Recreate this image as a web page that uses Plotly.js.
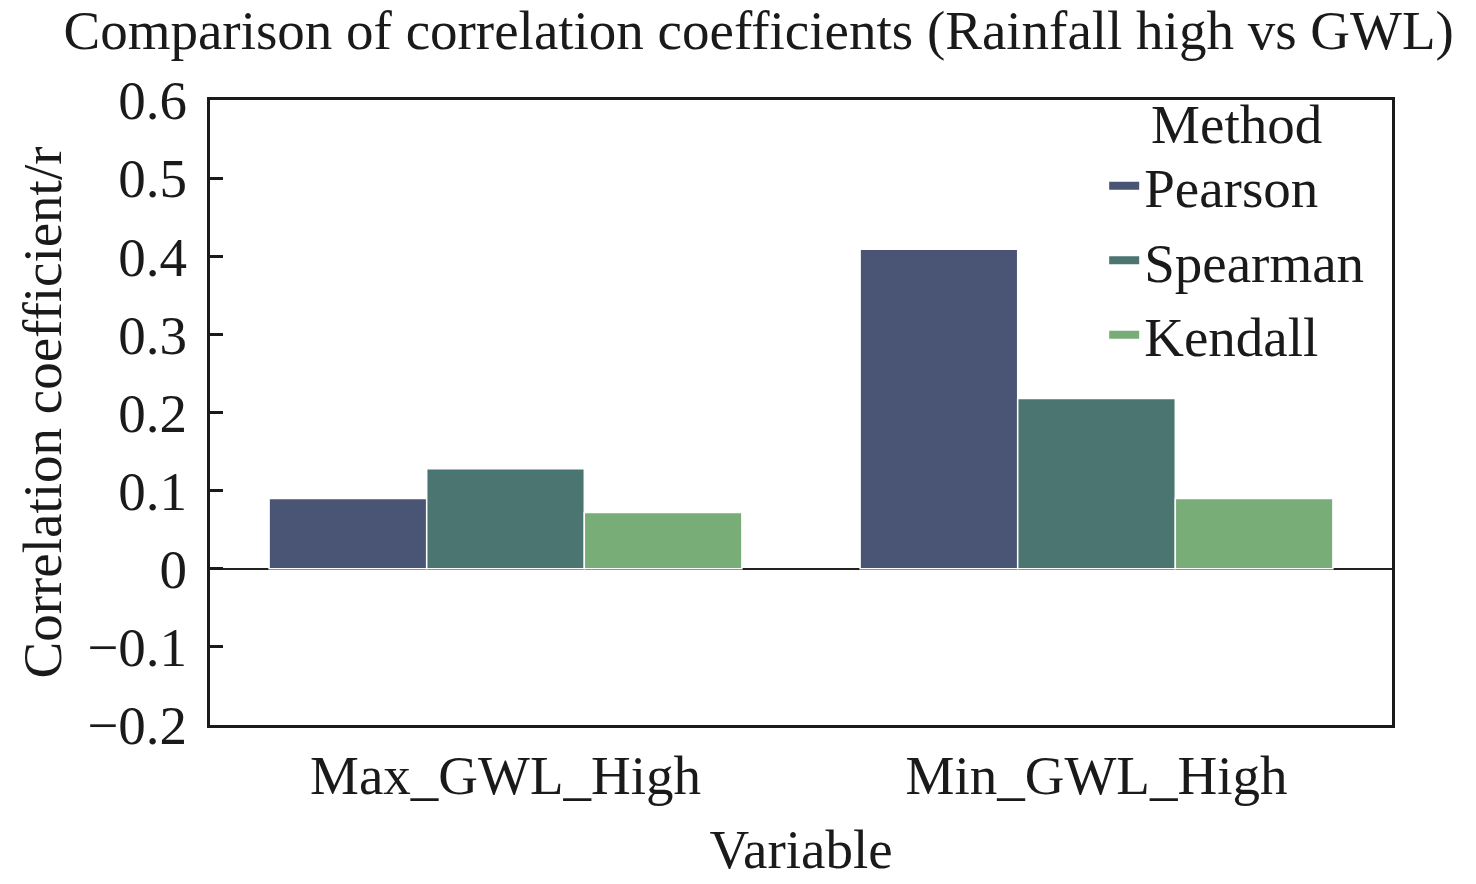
<!DOCTYPE html>
<html>
<head>
<meta charset="utf-8">
<script src="https://cdn.plot.ly/plotly-3.0.1.min.js"></script>
<style>
  html, body { margin: 0; padding: 0; background: #fff; }
  #chart { width: 1476px; height: 884px; }
</style>
</head>
<body>
<div id="chart"></div>
<script>
// Correlation of high rainfall with groundwater level, by method.
const variables = ["Max_GWL_High", "Min_GWL_High"];
const methods   = ["Pearson", "Spearman", "Kendall"];
const pearson   = [0.090, 0.409];
const spearman  = [0.128, 0.218];
const kendall   = [0.072, 0.090];
const yTicks    = [-0.2, -0.1, 0, 0.1, 0.2, 0.3, 0.4, 0.5, 0.6];

const COLORS = { Pearson: "#4a5474", Spearman: "#4b7571", Kendall: "#79ad77" };
const FONT = "Liberation Serif, Times New Roman, serif";
const FS = 55;
const INK = "#1a1a1a";

const values = { Pearson: pearson, Spearman: spearman, Kendall: kendall };

const bars = methods.map(m => ({
  type: "bar",
  name: m,
  x: variables,
  y: values[m],
  marker: { color: COLORS[m], line: { color: "#ffffff", width: 1.5 } },
  showlegend: false,
  hovertemplate: `${m}: %{y:.3f}<extra></extra>`,
}));

// Legend keys drawn as short thick strips (line traces with no visible point).
const keys = methods.map(m => ({
  type: "scatter",
  mode: "lines",
  name: m,
  x: [variables[0]], y: [null],
  line: { color: COLORS[m], width: 8 },
  hoverinfo: "skip",
}));

const layout = {
  width: 1476,
  height: 884,
  paper_bgcolor: "#ffffff",
  plot_bgcolor: "#ffffff",
  font: { family: FONT, size: FS, color: INK },
  margin: { l: 210, r: 84, t: 100, b: 159 },
  title: {
    text: "Comparison of correlation coefficients (Rainfall high vs GWL)",
    font: { family: FONT, size: FS, color: INK },
    xref: "container", x: 0.514, xanchor: "center",
    yref: "container", y: 0.966, yanchor: "middle",
  },
  barmode: "group",
  bargap: 0.2,
  bargroupgap: 0,
  xaxis: {
    type: "category",
    range: [-0.5, 1.5],
    showline: true, mirror: true, linecolor: INK, linewidth: 3,
    ticks: "", showgrid: false, zeroline: false,
    tickfont: { family: FONT, size: FS, color: INK },
    ticklabelstandoff: 0,
    title: { text: "Variable", font: { family: FONT, size: FS, color: INK }, standoff: 25 },
  },
  yaxis: {
    range: [-0.2, 0.6],
    tickmode: "array",
    tickvals: yTicks,
    ticktext: yTicks.map(v => (v < 0 ? "\u2212" : "") + String(Math.abs(v))),
    showline: true, mirror: true, linecolor: INK, linewidth: 3,
    ticks: "inside", ticklen: 13, tickwidth: 3, tickcolor: INK,
    showgrid: false,
    zeroline: true, zerolinecolor: "#222222", zerolinewidth: 1.5,
    tickfont: { family: FONT, size: FS, color: INK },
    ticklabelstandoff: 9,
    automargin: true,
    title: { text: "Correlation coefficient/r", font: { family: FONT, size: FS, color: INK }, standoff: 8 },
  },
  legend: {
    x: 0.7565, xanchor: "left",
    y: 1.045, yanchor: "top",
    bgcolor: "rgba(0,0,0,0)",
    borderwidth: 0,
    tracegroupgap: 0,
    font: { family: FONT, size: FS, color: INK },
    title: { text: "Method", side: "top center", font: { family: FONT, size: FS, color: INK } },
  },
  showlegend: true,
};

Plotly.newPlot("chart", [...bars, ...keys], layout, { displayModeBar: false, responsive: false });
</script>
</body>
</html>
